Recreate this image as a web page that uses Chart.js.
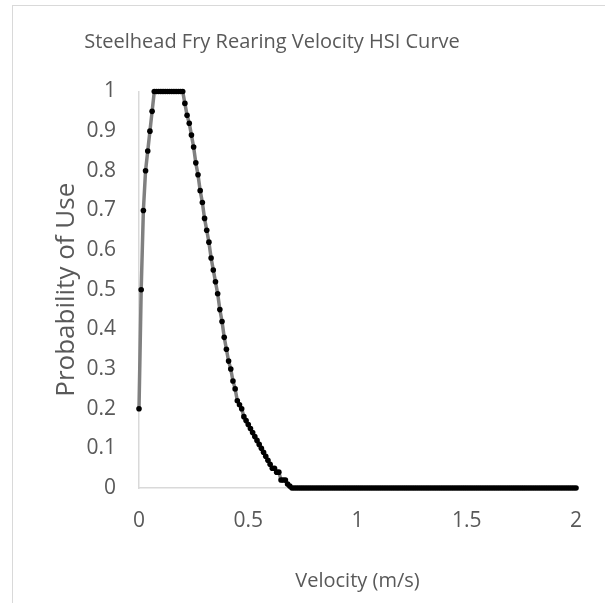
<!DOCTYPE html>
<html>
<head>
<meta charset="utf-8">
<script src="https://cdn.jsdelivr.net/npm/chart.js@4/dist/chart.umd.min.js"></script>
<style>
  html, body { margin: 0; padding: 0; background: #ffffff; overflow: hidden; }
  #wrap { position: relative; width: 605px; height: 603px; }
  #frame { position: absolute; left: 12px; top: 5px; width: 700px; height: 700px; border: 1px solid #d9d9d9; box-sizing: border-box; }
  canvas { position: absolute; left: 0; top: 0; }
</style>
</head>
<body>
<div id="wrap">
  <div id="frame"></div>
  <canvas id="c" width="605" height="603"></canvas>
</div>
<script>
const chartTitle = "Steelhead Fry Rearing Velocity HSI Curve";
const xAxisTitle = "Velocity (m/s)";
const yAxisTitle = "Probability of Use";

const velocity = [
  0.00,0.01,0.02,0.03,0.04,0.05,0.06,0.07,0.08,0.09,
  0.10,0.11,0.12,0.13,0.14,0.15,0.16,0.17,0.18,0.19,
  0.20,0.21,0.22,0.23,0.24,0.25,0.26,0.27,0.28,0.29,
  0.30,0.31,0.32,0.33,0.34,0.35,0.36,0.37,0.38,0.39,
  0.40,0.41,0.42,0.43,0.44,0.45,0.46,0.47,0.48,0.49,
  0.50,0.51,0.52,0.53,0.54,0.55,0.56,0.57,0.58,0.59,
  0.60,0.61,0.62,0.63,0.64,0.65,0.66,0.67,0.68,0.69,
  0.70,0.71,0.72,0.73,0.74,0.75,0.76,0.77,0.78,0.79,
  0.80,0.81,0.82,0.83,0.84,0.85,0.86,0.87,0.88,0.89,
  0.90,0.91,0.92,0.93,0.94,0.95,0.96,0.97,0.98,0.99,
  1.00,1.01,1.02,1.03,1.04,1.05,1.06,1.07,1.08,1.09,
  1.10,1.11,1.12,1.13,1.14,1.15,1.16,1.17,1.18,1.19,
  1.20,1.21,1.22,1.23,1.24,1.25,1.26,1.27,1.28,1.29,
  1.30,1.31,1.32,1.33,1.34,1.35,1.36,1.37,1.38,1.39,
  1.40,1.41,1.42,1.43,1.44,1.45,1.46,1.47,1.48,1.49,
  1.50,1.51,1.52,1.53,1.54,1.55,1.56,1.57,1.58,1.59,
  1.60,1.61,1.62,1.63,1.64,1.65,1.66,1.67,1.68,1.69,
  1.70,1.71,1.72,1.73,1.74,1.75,1.76,1.77,1.78,1.79,
  1.80,1.81,1.82,1.83,1.84,1.85,1.86,1.87,1.88,1.89,
  1.90,1.91,1.92,1.93,1.94,1.95,1.96,1.97,1.98,1.99,
  2.00
];

const probability = [
  0.20,0.50,0.70,0.80,0.85,0.90,0.95,1.00,1.00,1.00,
  1.00,1.00,1.00,1.00,1.00,1.00,1.00,1.00,1.00,1.00,
  1.00,0.97,0.94,0.92,0.89,0.86,0.82,0.79,0.75,0.72,
  0.68,0.65,0.62,0.58,0.55,0.52,0.49,0.45,0.42,0.38,
  0.35,0.32,0.30,0.27,0.25,0.22,0.21,0.20,0.18,0.17,
  0.16,0.15,0.14,0.13,0.12,0.11,0.10,0.09,0.08,0.07,
  0.06,0.05,0.05,0.04,0.04,0.02,0.02,0.02,0.01,0.005,
  0,0,0,0,0,0,0,0,0,0,
  0,0,0,0,0,0,0,0,0,0,
  0,0,0,0,0,0,0,0,0,0,
  0,0,0,0,0,0,0,0,0,0,
  0,0,0,0,0,0,0,0,0,0,
  0,0,0,0,0,0,0,0,0,0,
  0,0,0,0,0,0,0,0,0,0,
  0,0,0,0,0,0,0,0,0,0,
  0,0,0,0,0,0,0,0,0,0,
  0,0,0,0,0,0,0,0,0,0,
  0,0,0,0,0,0,0,0,0,0,
  0,0,0,0,0,0,0,0,0,0,
  0,0,0,0,0,0,0,0,0,0,
  0
];

const xTicks = [0, 0.5, 1, 1.5, 2];
const yTicks = [0, 0.1, 0.2, 0.3, 0.4, 0.5, 0.6, 0.7, 0.8, 0.9, 1];

const points = velocity.map((v, i) => ({ x: v, y: probability[i] }));
const FONT = "'Open Sans', 'Liberation Sans', sans-serif";
const TXT = '#595959';

const titlePlugin = {
  id: 'chartTitleText',
  afterDraw(chart) {
    const ctx = chart.ctx;
    ctx.save();
    ctx.fillStyle = TXT;
    ctx.font = "20px " + FONT;
    ctx.textAlign = 'center';
    ctx.textBaseline = 'middle';
    ctx.fillText(chartTitle, 272, 42);
    ctx.restore();
  }
};

new Chart(document.getElementById('c'), {
  type: 'scatter',
  data: {
    datasets: [{
      data: points,
      showLine: true,
      borderColor: '#808080',
      borderWidth: 3.5,
      pointRadius: 2.8,
      pointBackgroundColor: '#000000',
      pointBorderColor: '#000000',
      pointBorderWidth: 0,
      pointHoverRadius: 2.8,
      tension: 0,
      clip: false
    }]
  },
  plugins: [titlePlugin],
  options: {
    responsive: false,
    animation: false,
    events: [],
    layout: { padding: { left: 0, right: 29, top: 91.5, bottom: 0 } },
    plugins: {
      legend: { display: false },
      tooltip: { enabled: false },
      title: { display: false }
    },
    scales: {
      x: {
        type: 'linear',
        min: 0, max: 2,
        afterBuildTicks: (s) => { s.ticks = xTicks.map(v => ({ value: v })); },
        afterFit: (s) => { s.height = 603 - 488; },
        grid: { display: false, drawTicks: false },
        border: { display: true, color: '#d9d9d9', width: 1.5 },
        ticks: { color: TXT, font: { family: FONT, size: 21 }, padding: 20, maxRotation: 0,
                 callback: (v) => String(v) },
        title: {
          display: true, text: xAxisTitle, color: TXT,
          font: { family: FONT, size: 20 }, padding: { top: 0, bottom: 10 }
        }
      },
      y: {
        type: 'linear',
        min: 0, max: 1,
        afterBuildTicks: (s) => { s.ticks = yTicks.map(v => ({ value: v })); },
        afterFit: (s) => { s.width = 139; },
        grid: { display: false, drawTicks: false },
        border: { display: true, color: '#d9d9d9', width: 1.5 },
        ticks: { color: TXT, font: { family: FONT, size: 21 }, padding: 23,
                 callback: (v) => String(v) },
        title: {
          display: true, text: yAxisTitle, color: TXT,
          font: { family: FONT, size: 26 }, padding: { top: 51, bottom: 0 }
        }
      }
    }
  }
});
</script>
</body>
</html>
